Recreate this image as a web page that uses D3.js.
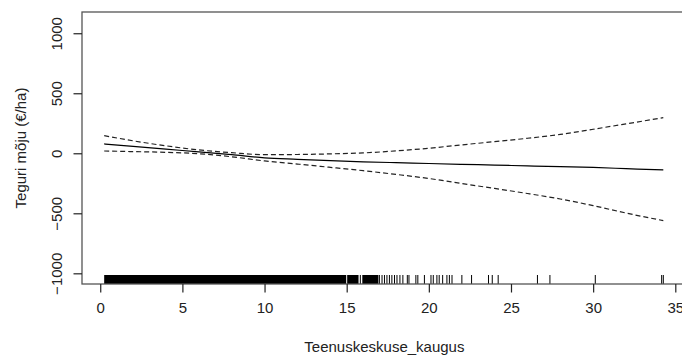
<!DOCTYPE html>
<html>
<head>
<meta charset="utf-8">
<script src="https://cdn.jsdelivr.net/npm/d3@7"></script>
<style>
  html, body { margin: 0; padding: 0; background: #fff; }
  svg { display: block; font-family: "Liberation Sans", Arial, sans-serif; }
</style>
</head>
<body>
<svg id="chart" width="682" height="356"></svg>
<script>
// Smooth term for distance to service centre, with +/- 2 SE band
const DIST = [0.24, 2, 4, 6, 8, 10, 12, 14, 16, 18, 20, 22, 24, 26, 28, 30, 32, 34.27];
const FIT = [78, 57, 34, 12, -12, -38, -50, -61, -71, -78, -85, -92, -98, -105, -111, -118, -128, -139];
const UPPER = [147, 104, 62, 28, 5, -12, -10, -5, 3, 20, 42, 70, 97, 125, 157, 200, 245, 297];
const LOWER = [19, 14, 8, -4, -29, -64, -90, -117, -145, -176, -210, -252, -293, -335, -381, -436, -498, -561];

// Rug: stretches where observations are packed solid, then single observations
const RUG_DENSE = [[0.24, 14.97], [15.03, 15.72], [15.95, 16.93]];
const RUG_SINGLE = [15.83, 16.99, 17.15, 17.30, 17.45, 17.60, 17.75, 17.91, 18.06, 18.24, 18.42,
  18.69, 18.79, 19.21, 19.33, 19.73, 20.13, 20.27, 20.49, 20.63, 20.84, 21.10, 21.25, 21.41,
  22.01, 22.60, 23.63, 23.86, 24.22, 26.61, 27.37, 30.13, 34.17, 34.27];

const X_TICKS = [0, 5, 10, 15, 20, 25, 30, 35];
const Y_TICKS = [-1000, -500, 0, 500, 1000];
const X_TITLE = 'Teenuskeskuse_kaugus';
const Y_TITLE = 'Teguri mõju (€/ha)';

const PLOT = { left: 82, right: 686.8, top: 12, bottom: 284 };
const TICK_LEN = 8.5;
const RUG_LEN = 9;
const FONT = 15;

const svg = d3.select('#chart');

const x = d3.scaleLinear().domain([-1.11, 35.7]).range([PLOT.left, PLOT.right]);
const y = d3.scaleLinear().domain([-1089, 1177]).range([PLOT.bottom, PLOT.top]);

// Rug first so the box line sits on top of it
const rug = svg.append('g').attr('class', 'rug');
rug.selectAll('rect')
  .data(RUG_DENSE)
  .join('rect')
  .attr('x', d => x(d[0]))
  .attr('width', d => x(d[1]) - x(d[0]))
  .attr('y', PLOT.bottom - RUG_LEN)
  .attr('height', RUG_LEN)
  .attr('fill', '#000');
rug.selectAll('line')
  .data(RUG_SINGLE)
  .join('line')
  .attr('x1', d => x(d)).attr('x2', d => x(d))
  .attr('y1', PLOT.bottom - RUG_LEN).attr('y2', PLOT.bottom)
  .attr('stroke', '#000')
  .attr('stroke-width', 1);

// Curves
const pts = key => DIST.map((d, i) => [d, key[i]]);
const line = d3.line().x(d => x(d[0])).y(d => y(d[1])).curve(d3.curveMonotoneX);

svg.append('path')
  .datum(pts(FIT))
  .attr('d', line)
  .attr('fill', 'none')
  .attr('stroke', '#000')
  .attr('stroke-width', 1.2);

svg.selectAll('path.band')
  .data([pts(UPPER), pts(LOWER)])
  .join('path')
  .attr('class', 'band')
  .attr('d', line)
  .attr('fill', 'none')
  .attr('stroke', '#222')
  .attr('stroke-width', 1.2)
  .attr('stroke-dasharray', '5,3');

// Plot box
svg.append('rect')
  .attr('x', PLOT.left).attr('y', PLOT.top)
  .attr('width', PLOT.right - PLOT.left)
  .attr('height', PLOT.bottom - PLOT.top)
  .attr('fill', 'none')
  .attr('stroke', '#555')
  .attr('stroke-width', 1.3);

// X axis
const xAxis = d3.axisBottom(x).tickValues(X_TICKS).tickSize(TICK_LEN).tickPadding(10).tickSizeOuter(0);
const gx = svg.append('g')
  .attr('transform', `translate(0,${PLOT.bottom})`)
  .call(xAxis);
gx.select('.domain').remove();
gx.selectAll('.tick line').attr('stroke', '#222').attr('stroke-width', 1.2);
gx.selectAll('.tick text')
  .attr('font-size', FONT)
  .attr('font-family', '"Liberation Sans", Arial, sans-serif')
  .attr('fill', '#222');

// Y axis, labels turned like base R
const yAxis = d3.axisLeft(y).tickValues(Y_TICKS).tickSize(TICK_LEN).tickFormat(d3.format('d')).tickSizeOuter(0);
const gy = svg.append('g')
  .attr('transform', `translate(${PLOT.left},0)`)
  .call(yAxis);
gy.select('.domain').remove();
gy.selectAll('.tick line').attr('stroke', '#222').attr('stroke-width', 1.2);
gy.selectAll('.tick text')
  .attr('x', null).attr('dy', null)
  .attr('text-anchor', 'middle')
  .attr('transform', `translate(${62 - PLOT.left},0) rotate(-90)`)
  .attr('font-size', FONT)
  .attr('font-family', '"Liberation Sans", Arial, sans-serif')
  .attr('fill', '#222');

// Titles
svg.append('text')
  .attr('x', (PLOT.left + PLOT.right) / 2)
  .attr('y', 352)
  .attr('text-anchor', 'middle')
  .attr('font-size', FONT)
  .attr('fill', '#222')
  .text(X_TITLE);

svg.append('text')
  .attr('transform', `translate(26,${(PLOT.top + PLOT.bottom) / 2}) rotate(-90)`)
  .attr('text-anchor', 'middle')
  .attr('font-size', FONT)
  .attr('fill', '#222')
  .text(Y_TITLE);
</script>
</body>
</html>
